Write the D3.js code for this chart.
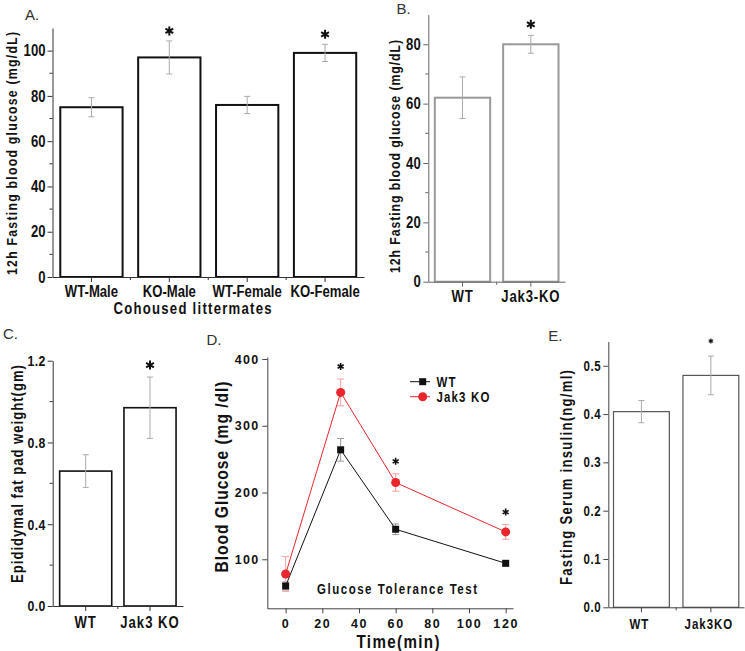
<!DOCTYPE html>
<html><head><meta charset="utf-8">
<script src="https://cdn.jsdelivr.net/npm/d3@7"></script>
<style>
body{margin:0;background:#fff;}
svg{display:block;}
</style></head>
<body>
<svg id="c" width="745" height="651"></svg>
<script>
// ---------- DATA ----------
const catsA = ["WT-Male", "KO-Male", "WT-Female", "KO-Female"];
const valsA = [75, 97, 76, 99];
const errA  = [4.2, 7.3, 3.8, 3.8];
const starA = [false, true, false, true];
const ticksA = [0, 20, 40, 60, 80, 100];
const minorA = [10, 30, 50, 70, 90];

const catsB = ["WT", "Jak3-KO"];
const valsB = [62, 80];
const errB  = [7, 3];
const starB = [false, true];
const ticksB = [0, 20, 40, 60, 80];
const minorB = [10, 30, 50, 70];

const catsC = ["WT", "Jak3 KO"];
const valsC = [0.66, 0.97];
const errC  = [0.08, 0.15];
const starC = [false, true];
const ticksC = [0.0, 0.4, 0.8, 1.2];
const minorC = [0.2, 0.6, 1.0];

const catsE = ["WT", "Jak3KO"];
const valsE = [0.405, 0.48];
const errE  = [0.023, 0.04];
const starE = [false, true];
const ticksE = [0.0, 0.1, 0.2, 0.3, 0.4, 0.5];

const timeD  = [0, 30, 60, 120];
const wtD    = [60, 264, 145, 94];
const wtErrD = [6, 17, 8, 4];
const koD    = [78, 350, 215, 141];
const koErrD = [26, 20, 13, 11];
const starD  = [false, true, true, true];
const ticksDx = [0, 20, 40, 60, 80, 100, 120];
const ticksDy = [100, 200, 300, 400];
const seriesD = ["WT", "Jak3 KO"];

// ---------- HELPERS ----------
const svg = d3.select("#c");
const SANS = "'Liberation Sans',Arial,'Helvetica',sans-serif";
const SX = 0.82; // horizontal squeeze to mimic a narrow bold face

function star(g, x, y, r, w) {
  const size = Math.max(1, (r / 0.59436) ** 2 - 0.75);
  g.append("path")
    .attr("d", d3.symbol(d3.symbolAsterisk, size)())
    .attr("transform", `translate(${x},${y})`)
    .attr("fill", "none").attr("stroke", "#111").attr("stroke-width", w);
}

function ntext(g, str, x, y, o) {
  const sx = o.sx || SX;
  const t = g.append("text")
    .attr("transform", `translate(${x},${y})` + (o.rot ? ` rotate(${o.rot})` : "") + ` scale(${sx},1)`)
    .attr("text-anchor", o.anchor || "middle")
    .attr("font-family", SANS).attr("font-weight", "bold")
    .attr("font-size", o.fs).attr("fill", "#111")
    .attr("letter-spacing", o.ls || 0)
    .text(str);
  if (o.central) t.attr("dominant-baseline", "central");
  if (o.len) t.attr("textLength", o.len / sx).attr("lengthAdjust", "spacing");
  return t;
}

function panelLetter(t, x, y) {
  svg.append("text").attr("x", x).attr("y", y).text(t)
    .attr("font-family", SANS).attr("font-size", 15).attr("fill", "#333");
}

function styleAxis(g, color, fs, ls, sx) {
  const s = sx || SX;
  g.select(".domain").attr("stroke", color).attr("stroke-width", 1);
  g.selectAll(".tick line").attr("stroke", color);
  g.selectAll(".tick text").attr("font-family", SANS).attr("font-weight", "bold")
    .attr("font-size", fs).attr("fill", "#111").attr("letter-spacing", ls || 0)
    .each(function () {
      const t = d3.select(this);
      const xx = +t.attr("x") || 0;
      t.attr("x", xx / s).attr("transform", `scale(${s},1)`);
    });
}

function barPanel(o) {
  const g = svg.append("g");
  const x = d3.scaleBand().domain(o.cats).range([o.x0, o.x1])
    .paddingInner(o.pi).paddingOuter(o.po);
  const y = d3.scaleLinear().domain(o.yDomain).range([o.y0, o.yTop]);
  const bw = x.bandwidth();

  g.selectAll("rect.bar").data(o.vals).join("rect").attr("class", "bar")
    .attr("x", (d, i) => x(o.cats[i]))
    .attr("y", d => y(d))
    .attr("width", bw)
    .attr("height", d => y(0) - y(d))
    .attr("fill", "#fff").attr("stroke", o.barStroke).attr("stroke-width", o.barW);

  o.vals.forEach((v, i) => {
    const cx = x(o.cats[i]) + bw / 2;
    const lo = y(v - o.errs[i]), hi = y(v + o.errs[i]);
    g.append("line").attr("x1", cx).attr("x2", cx).attr("y1", lo).attr("y2", hi)
      .attr("stroke", "#aaa").attr("stroke-width", 1);
    [lo, hi].forEach(yy => g.append("line").attr("x1", cx - 3).attr("x2", cx + 3)
      .attr("y1", yy).attr("y2", yy).attr("stroke", "#aaa").attr("stroke-width", 1));
    if (o.stars[i]) star(g, cx, hi - o.starOff, o.starR, o.starW);
  });

  const ya = g.append("g").attr("transform", `translate(${o.x0},0)`)
    .call(d3.axisLeft(y).tickValues(o.ticks).tickFormat(o.fmt).tickSize(5).tickSizeOuter(0).tickPadding(2));
  styleAxis(ya, o.axisColor, o.tickFs, o.tickLs);
  (o.minor || []).forEach(m => g.append("line").attr("x1", o.x0 - 3).attr("x2", o.x0)
    .attr("y1", y(m)).attr("y2", y(m)).attr("stroke", o.axisColor));

  const xa = g.append("g").attr("transform", `translate(0,${o.y0})`)
    .call(d3.axisBottom(x).tickSize(5).tickSizeOuter(0).tickFormat(""));
  styleAxis(xa, o.axisColor, o.tickFs);
  o.cats.forEach((c, i) => {
    if (i > 0) {
      const bx = x(c) - x.step() * x.paddingInner() / 2;
      g.append("line").attr("x1", bx).attr("x2", bx).attr("y1", o.y0).attr("y2", o.y0 + 3)
        .attr("stroke", o.axisColor);
    }
  });
  o.cats.forEach(c => ntext(g, c, x(c) + bw / 2 + (o.catShift || 0), o.y0 + o.catDy,
    {fs: o.catFs, ls: o.catLs}));

  ntext(g, o.ylabel, o.ylx, o.yly, {fs: o.ylFs, rot: -90, central: true, len: o.ylLen});
  return {g, x, y};
}

// ---------- PANEL A ----------
const A = barPanel({
  cats: catsA, vals: valsA, errs: errA, stars: starA, ticks: ticksA, minor: minorA,
  fmt: d3.format("d"),
  x0: 52.5, x1: 364, pi: 0.2, po: 0.1,
  y0: 277, yTop: 28, yDomain: [0, 110],
  barStroke: "#111", barW: 2, axisColor: "#333",
  tickFs: 16, catFs: 16, catDy: 19.5,
  starOff: 10, starR: 4.5, starW: 2,
  ylabel: "12h Fasting blood glucose (mg/dL)", ylx: 12.5, yly: 153.5, ylFs: 15, ylLen: 243
});
ntext(A.g, "Cohoused littermates", 192.5, 313.5, {fs: 16, len: 158});
panelLetter("A.", 25, 20);

// ---------- PANEL B ----------
barPanel({
  cats: catsB, vals: valsB, errs: errB, stars: starB, ticks: ticksB, minor: minorB,
  fmt: d3.format("d"),
  x0: 428.3, x1: 565, pi: 0.19, po: 0.095,
  y0: 281.7, yTop: 14.6, yDomain: [0, 90],
  barStroke: "#999", barW: 2, axisColor: "#666",
  tickFs: 16, tickLs: 0.5, catFs: 16, catDy: 20.5, catLs: 1,
  starOff: 11, starR: 4.5, starW: 2,
  ylabel: "12h Fasting blood glucose (mg/dL)", ylx: 395, yly: 156.5, ylFs: 15, ylLen: 233
});
panelLetter("B.", 396.5, 13.5);

// ---------- PANEL C ----------
barPanel({
  cats: catsC, vals: valsC, errs: errC, stars: starC, ticks: ticksC, minor: minorC,
  fmt: d3.format(".1f"),
  x0: 52.7, x1: 183, pi: 0.19, po: 0.108,
  y0: 606, yTop: 360.7, yDomain: [0, 1.2],
  barStroke: "#111", barW: 1.6, axisColor: "#333",
  tickFs: 15, tickLs: 0.5, catFs: 16, catDy: 21.5, catLs: 1.2,
  starOff: 12, starR: 4.5, starW: 2,
  ylabel: "Epididymal fat pad weight(gm)", ylx: 18, yly: 474, ylFs: 16, ylLen: 218
});
panelLetter("C.", 3, 338.5);

// ---------- PANEL E ----------
barPanel({
  cats: catsE, vals: valsE, errs: errE, stars: starE, ticks: ticksE, minor: [],
  fmt: d3.format(".1f"),
  x0: 608.3, x1: 744, pi: 0.196, po: 0.075,
  y0: 607.3, yTop: 341.6, yDomain: [0, 0.55],
  barStroke: "#555", barW: 1.2, axisColor: "#444",
  tickFs: 14, tickLs: 0.8, catFs: 14, catDy: 22, catLs: 1.2, catShift: -2,
  starOff: 15, starR: 2.5, starW: 1.2,
  ylabel: "Fasting Serum insulin(ng/ml)", ylx: 566.7, yly: 477.5, ylFs: 16, ylLen: 215
});
panelLetter("E.", 548.3, 340.5);

// ---------- PANEL D ----------
(function () {
  const g = svg.append("g");
  const x = d3.scaleLinear().domain([-10, 124]).range([267.3, 513]);
  const y = d3.scaleLinear().domain([26.6, 403]).range([608.3, 357]);
  const red = "#e8262b", lred = "#f4a0a0";

  const xa = g.append("g").attr("transform", `translate(0,${y.range()[0]})`)
    .call(d3.axisBottom(x).tickValues(ticksDx).tickFormat(d3.format("d")).tickSize(5).tickSizeOuter(0).tickPadding(6));
  styleAxis(xa, "#444", 12.5, 1.6, 1);
  const ya = g.append("g").attr("transform", `translate(${x.range()[0]},0)`)
    .call(d3.axisLeft(y).tickValues(ticksDy).tickFormat(d3.format("d")).tickSize(5).tickSizeOuter(0).tickPadding(3));
  styleAxis(ya, "#444", 12.5, 1.2, 1);

  const series = [
    {name: seriesD[0], vals: wtD, errs: wtErrD, color: "#111", ecolor: "#999", shape: "sq"},
    {name: seriesD[1], vals: koD, errs: koErrD, color: red, ecolor: lred, shape: "ci"}
  ];
  series.forEach(s => {
    s.vals.forEach((v, i) => {
      const cx = x(timeD[i]);
      const lo = y(Math.max(v - s.errs[i], 26.6)), hi = y(v + s.errs[i]);
      g.append("line").attr("x1", cx).attr("x2", cx).attr("y1", lo).attr("y2", hi)
        .attr("stroke", s.ecolor);
      [lo, hi].forEach(yy => g.append("line").attr("x1", cx - 3.5).attr("x2", cx + 3.5)
        .attr("y1", yy).attr("y2", yy).attr("stroke", s.ecolor));
    });
  });
  const line = d3.line().x((d, i) => x(timeD[i])).y(d => y(d));
  series.forEach(s => {
    g.append("path").attr("d", line(s.vals)).attr("fill", "none")
      .attr("stroke", s.color).attr("stroke-width", 1);
  });
  function marker(s, cx, cy) {
    if (s.shape === "sq") g.append("rect").attr("x", cx - 3.5).attr("y", cy - 3.5)
      .attr("width", 7).attr("height", 7).attr("fill", "#111");
    else g.append("circle").attr("cx", cx).attr("cy", cy).attr("r", 4.5).attr("fill", red);
  }
  series.forEach(s => s.vals.forEach((v, i) => marker(s, x(timeD[i]), y(v))));
  koD.forEach((v, i) => { if (starD[i]) star(g, x(timeD[i]), y(v + koErrD[i]) - 12.5, 3.5, 1.6); });

  series.forEach((s, i) => {
    const ly = 381.7 + i * 15;
    g.append("line").attr("x1", 410).attr("x2", 430).attr("y1", ly).attr("y2", ly)
      .attr("stroke", s.color);
    marker(s, 422.7, ly);
    ntext(g, s.name, 436.5, ly + 5, {fs: 14, ls: 1.4, anchor: "start"});
  });

  ntext(g, "Glucose Tolerance Test", 397, 594, {fs: 14, len: 160});
  ntext(g, "Time(min)", 398, 647.5, {fs: 18.5, len: 83});
  ntext(g, "Blood Glucose (mg /dl)", 221.7, 477, {fs: 19, rot: -90, central: true, len: 191});
  panelLetter("D.", 206.5, 345);
})();
</script>
</body></html>
